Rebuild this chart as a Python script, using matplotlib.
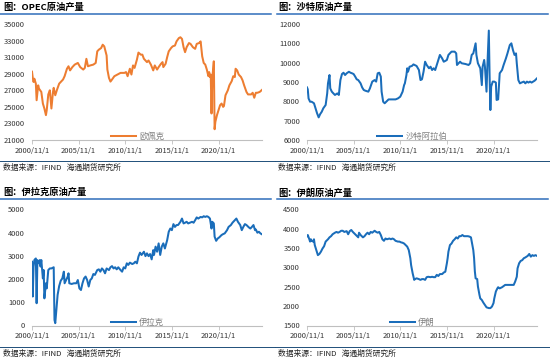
import matplotlib
matplotlib.use('Agg')
import matplotlib.pyplot as plt
from matplotlib.lines import Line2D
import pandas as pd

plt.rcParams['font.family'] = ['Noto Sans CJK SC', 'DejaVu Sans']

# 数据：(距2000/11的月数, 产量 千桶/日)
opec = [(0, 29250), (1, 28500), (2, 28000), (3, 28400), (5, 27800), (6, 25800), (8, 27600), (9, 27200),
        (12, 26800), (14, 25400), (16, 24800), (18, 24000), (19, 24600), (21, 26500), (23, 27000), (25, 24800),
        (27, 26800), (28, 27300), (30, 26400), (32, 27000), (35, 27800), (37, 28000), (40, 28300), (42, 28700),
        (45, 29600), (47, 29900), (49, 29400), (52, 29800), (55, 30100), (59, 30300), (62, 29800), (66, 29500),
        (68, 29700), (70, 30800), (72, 29900), (75, 30000), (79, 30100), (82, 30300), (84, 31700), (86, 31900),
        (89, 32100), (91, 32500), (93, 32300), (96, 31200), (97, 29500), (99, 28500), (101, 28050), (103, 28300),
        (106, 28700), (110, 28900), (114, 29100), (119, 29100), (121, 29200), (123, 28700), (126, 29600),
        (128, 28900), (130, 30000), (132, 29700), (135, 30700), (137, 31550), (140, 31300), (142, 31300),
        (144, 30800), (148, 30400), (150, 30600), (153, 30100), (156, 29400), (158, 30000), (161, 29500),
        (163, 29800), (166, 30200), (168, 30400), (169, 29800), (172, 30200), (174, 31000), (176, 31700),
        (179, 32100), (181, 32300), (184, 32400), (186, 32900), (189, 33300), (191, 33400), (193, 33200),
        (195, 32200), (197, 31600), (199, 32200), (202, 32700), (204, 32600), (207, 32200), (210, 32000),
        (212, 32600), (215, 32700), (217, 32900), (219, 31100), (221, 30300), (223, 30100), (225, 29500),
        (227, 28700), (228, 29200), (229, 28600), (230, 28900), (231, 24200), (232, 28400), (234, 30500),
        (235, 22300), (236, 23200), (238, 24000), (240, 24600), (242, 25200), (244, 25400), (246, 25000),
        (247, 25100), (249, 26400), (252, 27000), (254, 27600), (257, 28100), (259, 28700), (261, 28600),
        (262, 29600), (264, 29400), (266, 28900), (269, 28600), (271, 28200), (273, 27600), (276, 26800),
        (278, 26500), (282, 26500), (284, 26700), (286, 26100), (288, 26700), (290, 26700), (293, 26800),
        (296, 27050)]

saudi = [(0, 8720), (1, 8620), (2, 8150), (4, 7980), (6, 7980), (9, 7900), (11, 7640), (13, 7380), (15, 7170),
         (17, 7340), (19, 7460), (21, 7640), (24, 7810), (26, 8410), (27, 8930), (29, 9360), (30, 8670),
         (32, 8500), (34, 8410), (36, 8330), (39, 8410), (41, 8330), (43, 9100), (45, 9410), (47, 9480),
         (49, 9360), (51, 9450), (54, 9530), (56, 9480), (58, 9450), (60, 9410), (62, 9280), (64, 9140),
         (66, 9100), (69, 8930), (71, 8720), (73, 8590), (75, 8550), (79, 8500), (81, 8670), (84, 9020),
         (87, 9100), (89, 9020), (91, 9450), (93, 9480), (95, 9280), (96, 8500), (98, 7980), (100, 7900),
         (102, 7980), (105, 8100), (109, 8100), (114, 8100), (117, 8150), (120, 8240), (123, 8500), (125, 8840),
         (126, 8930), (128, 9360), (129, 9710), (130, 9530), (132, 9790), (135, 9830), (137, 9910), (141, 9830),
         (144, 9620), (146, 9100), (148, 9140), (150, 9530), (152, 10050), (154, 9880), (157, 9710), (159, 9790),
         (161, 9620), (163, 9710), (165, 9620), (167, 9880), (169, 10140), (171, 10400), (174, 10220),
         (176, 10050), (178, 10090), (180, 10140), (182, 10400), (186, 10570), (190, 10570), (192, 10480),
         (193, 9880), (195, 9970), (197, 10050), (199, 9970), (204, 9930), (208, 9880), (210, 9970),
         (212, 10400), (214, 10480), (217, 11000), (218, 10400), (220, 9970), (222, 9790), (223, 9710),
         (225, 8840), (226, 9790), (228, 10140), (229, 9790), (231, 8500), (232, 9700), (234, 11660),
         (235, 9280), (236, 7550), (237, 8760), (239, 9020), (241, 9020), (243, 8970), (244, 8070), (246, 8100),
         (248, 9450), (251, 9620), (253, 9880), (256, 10220), (258, 10480), (261, 10910), (263, 11000),
         (265, 10660), (267, 10400), (269, 10480), (270, 9970), (272, 9100), (274, 8930), (276, 8970),
         (279, 9020), (281, 8930), (283, 9020), (285, 8970), (287, 9020), (289, 8970), (291, 9020), (293, 9070),
         (296, 9190)]

iraq = [(0, 2750), (1, 1250), (2, 2540), (3, 2820), (5, 2890), (6, 960), (7, 2820), (9, 2680), (10, 2820),
        (11, 2540), (12, 2820), (14, 2030), (15, 2390), (16, 1170), (18, 1820), (19, 1600), (21, 2390),
        (23, 2460), (25, 2460), (28, 2510), (29, 240), (30, 100), (31, 530), (33, 1320), (35, 1700), (37, 1930),
        (39, 2030), (41, 2320), (42, 1820), (44, 1960), (46, 2110), (47, 2250), (48, 1820), (51, 1790),
        (54, 1820), (57, 1820), (59, 1960), (61, 1600), (63, 1530), (65, 1820), (67, 2030), (69, 2110),
        (71, 1960), (73, 1680), (75, 1960), (77, 2030), (79, 2220), (81, 2180), (84, 2390), (86, 2420),
        (88, 2320), (90, 2460), (92, 2390), (94, 2250), (96, 2460), (99, 2390), (101, 2510), (103, 2560),
        (105, 2460), (107, 2510), (109, 2420), (111, 2510), (114, 2390), (116, 2320), (118, 2510), (120, 2460),
        (122, 2680), (124, 2610), (126, 2710), (129, 2650), (131, 2680), (133, 2750), (135, 2680), (137, 2970),
        (139, 3140), (141, 3040), (144, 3180), (146, 2990), (148, 3110), (150, 2990), (152, 3080), (154, 2850),
        (156, 3250), (157, 3040), (159, 3400), (161, 3180), (163, 3540), (165, 3040), (167, 3400), (169, 3540),
        (171, 3320), (174, 3680), (176, 4040), (178, 4180), (180, 4110), (182, 4370), (184, 4250), (186, 4330),
        (188, 4330), (191, 4470), (193, 4610), (195, 4400), (197, 4430), (199, 4470), (201, 4400), (204, 4440),
        (206, 4470), (208, 4430), (210, 4540), (212, 4660), (214, 4610), (217, 4680), (219, 4660), (221, 4710),
        (223, 4680), (225, 4710), (227, 4680), (229, 4610), (231, 4180), (232, 4470), (234, 4400), (235, 3830),
        (237, 3650), (239, 3750), (241, 3800), (244, 3900), (246, 3940), (248, 3970), (251, 4110), (253, 4250),
        (256, 4330), (258, 4430), (261, 4540), (263, 4610), (265, 4470), (268, 4330), (270, 4110), (272, 4250),
        (274, 4370), (276, 4330), (279, 4230), (281, 4180), (283, 4250), (285, 4330), (287, 4110), (288, 4140),
        (290, 4000), (292, 4040), (294, 3970), (296, 3930)]

iran = [(0, 3810), (1, 3840), (3, 3730), (4, 3670), (5, 3730), (6, 3690), (8, 3670), (9, 3730), (10, 3580),
        (12, 3450), (14, 3320), (16, 3350), (18, 3410), (20, 3490), (22, 3550), (24, 3670), (27, 3730),
        (29, 3780), (31, 3810), (33, 3860), (36, 3900), (38, 3920), (40, 3900), (42, 3920), (44, 3950),
        (46, 3950), (48, 3920), (51, 3940), (53, 3860), (55, 3940), (57, 3970), (59, 3920), (61, 3880),
        (63, 3840), (66, 3780), (67, 3900), (69, 3840), (72, 3780), (74, 3810), (76, 3860), (78, 3900),
        (80, 3860), (82, 3920), (84, 3900), (87, 3950), (89, 3920), (91, 3900), (93, 3920), (95, 3840),
        (97, 3730), (99, 3690), (101, 3750), (103, 3730), (106, 3750), (108, 3730), (110, 3750), (112, 3730),
        (114, 3690), (117, 3670), (119, 3670), (121, 3650), (123, 3640), (125, 3620), (127, 3580), (129, 3540),
        (131, 3450), (133, 3240), (134, 3060), (136, 2850), (138, 2680), (139, 2700), (141, 2720), (144, 2700),
        (146, 2680), (148, 2700), (150, 2700), (152, 2680), (154, 2750), (156, 2760), (159, 2750), (161, 2760),
        (163, 2750), (165, 2750), (167, 2810), (169, 2780), (171, 2830), (174, 2830), (176, 2870), (178, 2890),
        (180, 3110), (181, 3240), (182, 3410), (184, 3580), (186, 3620), (188, 3690), (190, 3730), (192, 3780),
        (194, 3750), (196, 3810), (198, 3810), (200, 3840), (202, 3810), (205, 3810), (207, 3810), (209, 3800),
        (211, 3780), (212, 3670), (214, 3450), (215, 3250), (216, 2900), (217, 2720), (219, 2700), (220, 2510),
        (222, 2290), (223, 2200), (225, 2160), (227, 2090), (229, 2030), (231, 1970), (234, 1950), (236, 1950),
        (238, 1990), (240, 2080), (241, 2200), (243, 2380), (245, 2460), (246, 2490), (248, 2460), (251, 2490),
        (253, 2520), (255, 2550), (257, 2550), (259, 2550), (261, 2550), (263, 2550), (266, 2550), (268, 2640),
        (270, 2760), (271, 2980), (273, 3110), (275, 3170), (277, 3190), (279, 3240), (281, 3260), (284, 3300),
        (286, 3350), (288, 3280), (290, 3320), (292, 3300), (294, 3320), (296, 3300)]

tick_dates = ['2000-11-01', '2005-11-01', '2010-11-01', '2015-11-01', '2020-11-01']
tick_labels = ['2000/11/1', '2005/11/1', '2010/11/1', '2015/11/1', '2020/11/1']

start = pd.Timestamp('2000-11-01')

def to_series(pts):
    dates = [start + pd.DateOffset(months=m) for m, _ in pts]
    vals = [v for _, v in pts]
    return dates, vals

# 四个子图：标题、图例名、数据、颜色、y轴刻度、左上角像素位置
panels = [
    ('图：OPEC原油产量', '欧佩克', opec, '#ED7D31', list(range(21000, 35001, 2000)), (0, 0)),
    ('图：沙特原油产量', '沙特阿拉伯', saudi, '#1A6DBA', list(range(6000, 12001, 1000)), (275, 0)),
    ('图：伊拉克原油产量', '伊拉克', iraq, '#1A6DBA', list(range(0, 5001, 1000)), (0, 180)),
    ('图：伊朗原油产量', '伊朗', iran, '#1A6DBA', list(range(1500, 4501, 500)), (275, 180)),
]

W, H = 550, 360
fig = plt.figure(figsize=(W / 100, H / 100), dpi=100)

def fx(x):
    return x / W

def fy(y):
    return 1 - y / H

for title, name, pts, color, yticks, (ox, oy) in panels:
    shift = 0 if oy == 0 else 5.5
    top = oy + 24 + shift
    bot = oy + 140 + shift
    ax = fig.add_axes([fx(ox + 32), fy(bot), 230 / W, (bot - top) / H])
    dates, vals = to_series(pts)
    ax.plot(dates, vals, color=color, lw=1.45, label=name)
    ax.set_xlim(dates[0], dates[-1])
    ax.set_ylim(yticks[0], yticks[-1])
    ax.set_yticks(yticks)
    ax.set_xticks(pd.to_datetime(tick_dates))
    ax.set_xticklabels(tick_labels)
    for s in ['top', 'right', 'left']:
        ax.spines[s].set_visible(False)
    ax.spines['bottom'].set_color('#BFBFBF')
    ax.spines['bottom'].set_linewidth(0.8)
    ax.tick_params(axis='y', length=0, pad=5, labelsize=5.4, labelcolor='#333333')
    ax.tick_params(axis='x', length=3, width=0.6, color='#BFBFBF', pad=2, labelsize=5.4, labelcolor='#333333')
    ax.set_facecolor('none')
    ax.legend(loc='center', bbox_to_anchor=((137.5 - 32) / 230, 0.03), frameon=False,
              fontsize=6, handlelength=3, handletextpad=0.4, labelcolor='#808080')

    # 标题与上方蓝线
    fig.text(fx(ox + 3), fy(oy + 7 + shift), title, fontsize=6.7, fontweight='bold', va='center', ha='left')
    x1 = ox + 271 if ox == 0 else ox + 273
    fig.add_artist(Line2D([fx(ox + (0 if ox == 0 else 2)), fx(x1)], [fy(oy + 13.5 + shift)] * 2,
                          transform=fig.transFigure, color='#2F6EBA', lw=1.1))
    # 数据来源
    fig.add_artist(Line2D([fx(ox), fx(ox + 275)], [fy(oy + 161 + shift)] * 2,
                          transform=fig.transFigure, color='#1F4E79', lw=0.7))
    fig.text(fx(ox + 3), fy(oy + 168 + shift), '数据来源：IFIND   海通期货研究所', fontsize=5.6,
             va='center', ha='left', color='#222222')

fig.savefig('out.png', dpi=100)
